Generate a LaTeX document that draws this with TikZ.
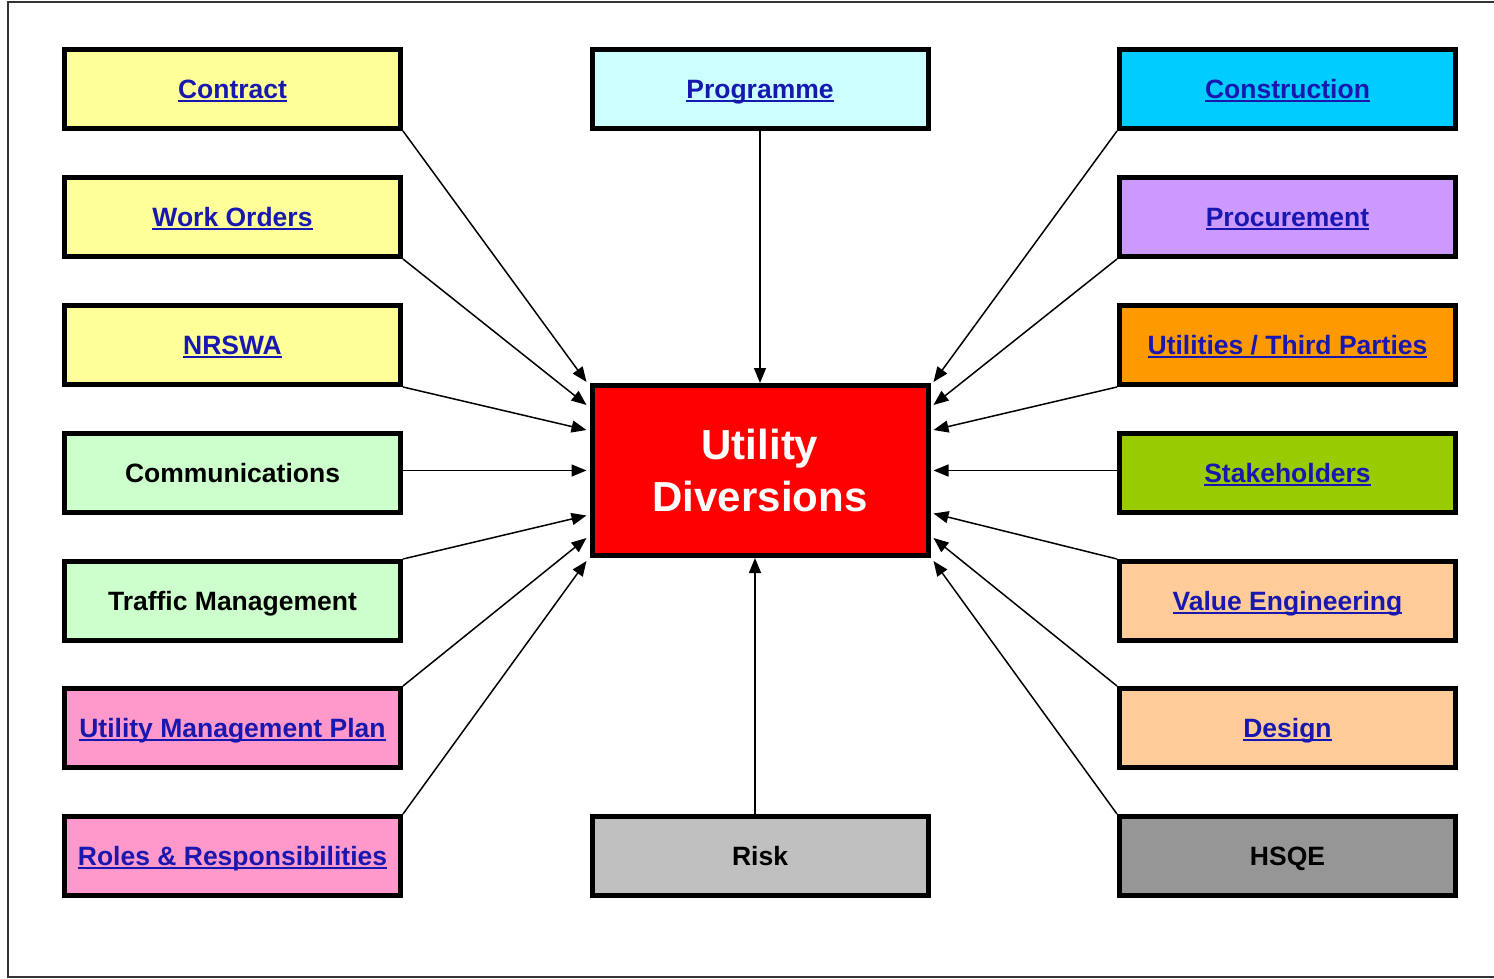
\documentclass[tikz,border=0pt]{standalone}
\usepackage{fontspec}
\setmainfont{Liberation Sans}
\usetikzlibrary{arrows.meta}
\definecolor{linkblue}{RGB}{24,24,176}
\definecolor{yellowbox}{HTML}{FFFF99}
\definecolor{greenbox}{HTML}{CCFFCC}
\definecolor{pinkbox}{HTML}{FF99CC}
\definecolor{paleblue}{HTML}{CCFFFF}
\definecolor{skybox}{HTML}{00CCFF}
\definecolor{lilacbox}{HTML}{CC99FF}
\definecolor{orangebox}{HTML}{FF9900}
\definecolor{limebox}{HTML}{99CC00}
\definecolor{peachbox}{HTML}{FFCC99}
\definecolor{greybox}{HTML}{C0C0C0}
\definecolor{darkgreybox}{HTML}{969696}
\definecolor{udred}{HTML}{FF0000}
\newcommand{\lnk}[1]{\setbox0=\hbox{#1}\rlap{\copy0}\rule[-3.5pt]{\wd0}{2.2pt}}
\tikzset{
  topicbox/.style = {rectangle, draw=black, line width=5pt, minimum width=336pt, minimum height=79pt, inner sep=0pt, text height=19pt, text depth=0pt, text centered, font=\bfseries\fontsize{26.5}{30}\selectfont},
  linkbox/.style = {topicbox, text=linkblue},
  hubbox/.style = {topicbox, minimum height=170pt, text height=, text depth=, fill=udred, text=white, align=center, font=\bfseries\fontsize{42}{52}\selectfont},
  feed/.style = {-{Triangle[length=15pt,width=12pt]}, line width=1.5pt},
  frame/.style = {draw=black!80, line width=2.5pt}
}
\begin{document}
\begin{tikzpicture}[x=1pt, y=-1pt]
    \useasboundingbox (0,0) rectangle (1494,979);
    \draw[frame] (1500,2) -- (8,2) -- (8,977) -- (1500,977);

    % hub
    \node[hubbox] (ud) at (760,470.5) {Utility\\Diversions};

    % left column
    \node[linkbox, fill=yellowbox] (contract) at (232.5,89) {\lnk{Contract}};
    \node[linkbox, fill=yellowbox] (orders) at (232.5,217) {\lnk{Work Orders}};
    \node[linkbox, fill=yellowbox] (nrswa) at (232.5,345) {\lnk{NRSWA}};
    \node[topicbox, fill=greenbox] (comms) at (232.5,473) {Communications};
    \node[topicbox, fill=greenbox] (traffic) at (232.5,601) {Traffic Management};
    \node[linkbox, fill=pinkbox] (ump) at (232.5,728) {\lnk{Utility Management Plan}};
    \node[linkbox, fill=pinkbox] (roles) at (232.5,856) {\lnk{Roles \& Responsibilities}};

    % middle column
    \node[linkbox, fill=paleblue] (programme) at (760,89) {\lnk{Programme}};
    \node[topicbox, fill=greybox] (risk) at (760,856) {Risk};

    % right column
    \node[linkbox, fill=skybox] (construction) at (1287.5,89) {\lnk{Construction}};
    \node[linkbox, fill=lilacbox] (procurement) at (1287.5,217) {\lnk{Procurement}};
    \node[linkbox, fill=orangebox] (utilities) at (1287.5,345) {\lnk{Utilities / Third Parties}};
    \node[linkbox, fill=limebox] (stakeholders) at (1287.5,473) {\lnk{Stakeholders}};
    \node[linkbox, fill=peachbox] (value) at (1287.5,601) {\lnk{Value Engineering}};
    \node[linkbox, fill=peachbox] (design) at (1287.5,728) {\lnk{Design}};
    \node[topicbox, fill=darkgreybox] (hsqe) at (1287.5,856) {HSQE};

    % arrows into the hub
    \draw[feed] (contract.south east) -- ([xshift=-3pt,yshift=1pt]ud.north west);
    \draw[feed] (orders.south east) -- ([xshift=-3pt,yshift=-22pt]ud.north west);
    \draw[feed] (nrswa.south east) -- ([xshift=-3pt,yshift=-47pt]ud.north west);
    \draw[feed] (comms.east |- ud.west) -- ([xshift=-3pt]ud.west);
    \draw[feed] (traffic.north east) -- ([xshift=-3pt,yshift=-45pt]ud.west);
    \draw[feed] (ump.north east) -- ([xshift=-3pt,yshift=20pt]ud.south west);
    \draw[feed] (roles.north east) -- ([xshift=-3pt,yshift=-3pt]ud.south west);
    \draw[feed] (programme.south) -- (ud.north);
    \draw[feed] ([xshift=-5pt]risk.north) -- ([xshift=-5pt]ud.south);
    \draw[feed] (construction.south west) -- ([xshift=3pt,yshift=1pt]ud.north east);
    \draw[feed] (procurement.south west) -- ([xshift=3pt,yshift=-22pt]ud.north east);
    \draw[feed] (utilities.south west) -- ([xshift=3pt,yshift=-47pt]ud.north east);
    \draw[feed] (stakeholders.west |- ud.east) -- ([xshift=3pt]ud.east);
    \draw[feed] (value.north west) -- ([xshift=3pt,yshift=-43pt]ud.east);
    \draw[feed] (design.north west) -- ([xshift=3pt,yshift=20pt]ud.south east);
    \draw[feed] (hsqe.north west) -- ([xshift=3pt,yshift=-3pt]ud.south east);
\end{tikzpicture}
\end{document}
